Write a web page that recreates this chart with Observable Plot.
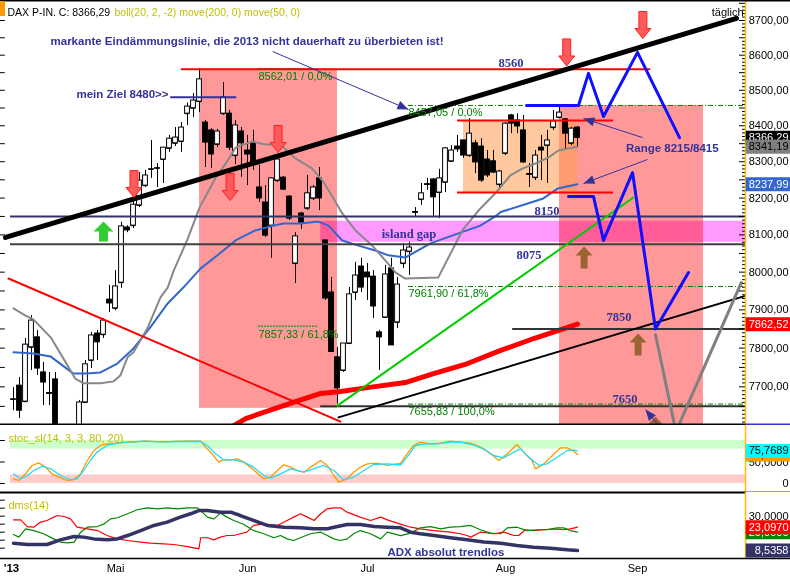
<!DOCTYPE html>
<html lang="de">
<head>
<meta charset="utf-8">
<title>DAX täglich</title>
<script src="https://cdn.jsdelivr.net/npm/d3@7"></script>
<script src="https://cdn.jsdelivr.net/npm/@observablehq/plot@0.6"></script>
<style>
  html, body { margin: 0; padding: 0; background: #fff; }
  #chart { width: 790px; height: 577px; overflow: hidden; }
  #chart svg { display: block; }
</style>
</head>
<body>
<div id="chart"></div>
<script>
// ---------------- DATA ----------------
// x = trading-day number: 0 = 8 Apr 2013 ... 94 = 19 Aug 2013 (future days continue)
const open = [7668,7703,7662,7802,7828,7737,7684,7719,7585,7505,
  7545,7590,7660,7768,7838,7835,7927,7904,7972,8120,
  8125,8180,8234,8279,8282,8306,8337,8351,8356,8434,
  8449,8468,8409,8387,8348,8434,8434,8317,8384,8331,
  8353,8229,8188,8125,8248,8256,8204,8023,8158,8172,
  8199,8254,8085,7946,7776,7742,7812,7946,8015,7999,
  7988,7841,7880,8010,7867,8023,8055,8162,8196,8238,
  8251,8215,8243,8301,8342,8359,8317,8351,8342,8306,
  8301,8237,8323,8429,8415,8387,8266,8256,8339,8345,
  8395,8423,8418,8351,8395];
const high = [7698,7724,7825,7885,7846,7763,7737,7737,7595,7560,
  7598,7665,7768,7841,7846,7877,7965,8004,8134,8125,
  8199,8270,8276,8359,8295,8339,8373,8395,8409,8464,
  8491,8562.01,8415,8392,8390,8522,8443,8415,8395,8373,
  8387,8290,8234,8256,8312,8259,8207,8106,8161,8262,
  8234,8284,8085,7986,7802,7812,7959,8026,8037,8023,
  8004,7846,8018,8037,7986,8077,8080,8174,8240,8254,
  8254,8279,8339,8345,8373,8359,8420,8359,8364,8331,
  8331,8276,8409,8432,8434,8429,8295,8331,8373,8387,
  8443,8457.05,8420,8395,8398];
const low = [7639,7619,7660,7742,7729,7652,7652,7560,7470,7440,
  7520,7585,7659,7747,7768,7825,7893,7898,7957,8106,
  8117,8174,8229,8254,8229,8240,8326,8342,8326,8401,
  8423,8437,8284,8281,8339,8429,8331,8292,8257,8234,
  8276,8188,8093,8037,8243,8221,8139,7970,8115,8166,
  8193,8166,7925,7790,7655.83,7737,7809,7925,7946,7925,
  7877,7742,7877,7807,7851,8010,7991,8147,8180,8221,
  8147,8144,8215,8298,8326,8309,8312,8267,8243,8256,
  8267,8221,8317,8378,8378,8295,8229,8248,8248,8240,
  8387,8420,8334,8345,8339];
const close = [7667,7639,7809,7872,7747,7711,7682,7590,7500,7540,
  7580,7660,7758,7833,7815,7872,7917,7962,8123,8112,
  8182,8248,8262,8278,8281,8339,8364,8367,8395,8454,
  8471,8531,8353,8320,8384,8480,8339,8401,8351,8320,
  8295,8199,8098,8254,8306,8223,8144,8096,8133,8213,
  8229,8199,7930,7790,7696,7812,7941,7991,7959,7986,
  7909,7828,7994,7807,7967,8058,8066,8160,8213,8236,
  8202,8254,8337,8331,8334,8317,8378,8298,8248,8262,
  8270,8273,8406,8406,8398,8298,8264,8317,8331,8359,
  8412,8437,8378,8392,8366.29];

// indicator lines [day, value]
const bollMid = [[0,7904],[2,7885],[3.3,7875],[6.2,7828],[8.7,7763],[10.3,7721],[11.7,7709],[14.5,7709],[16.7,7714],[17.8,7729],[19,7776],[20,7789],[22.3,7851],[24.5,7933],[25.7,7959],[26.7,8004],[29,8088],[31,8174],[33.7,8256],[35.7,8303],[37,8339],[39.8,8356],[42,8348],[44.5,8348],[47,8309],[49.8,8281],[51.5,8248],[53.2,8202],[54.8,8158],[57,8112],[59.8,8071],[62,8031],[63.7,7999],[65.3,7983],[70.8,7986],[72.5,8039],[74.8,8112],[77.5,8166],[80.3,8213],[82.8,8262],[84.8,8281],[87,8295],[89.2,8312],[90.8,8331],[92.5,8337],[94,8341.19]];
const move50 = [[0,7789],[3.3,7786],[6.2,7778],[10,7734],[12.3,7734],[14.5,7737],[17.3,7760],[20,7799],[22.8,7854],[25.7,7917],[28.3,7959],[31.2,8010],[34,8045],[37,8085],[40.3,8112],[42.8,8123],[45,8131],[47.8,8131],[50.8,8136],[52.5,8125],[54.8,8085],[57.5,8071],[60.3,8058],[62.5,8045],[65.3,8039],[69.5,8077],[74.5,8106],[77.8,8125],[80.3,8150],[81.2,8162],[85.7,8185],[88.3,8199],[90.7,8226],[94,8237.99]];
const move200 = [[36.5,7599],[38.7,7619],[47,7662],[51.2,7683],[54.5,7688],[59,7698],[65.3,7711],[70,7734],[75.7,7760],[81.2,7794],[86.7,7825],[94,7862.52]];

// stochastic %K / %D
const stochK = [[0,10.9],[0.9,7.0],[2,22.5],[3.1,41.9],[4.2,48.1],[5.3,38.0],[6.4,22.5],[7.6,14.7],[8.9,7.0],[10,8.5],[11.2,22.5],[12.3,53.5],[13.4,76.7],[14.5,88.4],[15.6,92.2],[17,93.8],[18.4,96.1],[20,96.1],[21.7,98.4],[25,96.9],[28.4,98.4],[31.2,98.4],[32,84.5],[33.1,69.0],[34.2,49.6],[35,55.0],[36.2,55.0],[37.3,57.4],[38.4,49.6],[40,31.8],[41.7,10.9],[42.8,14.7],[44,30.2],[45,43.4],[46.2,38.0],[47.3,30.2],[48.4,26.4],[49.5,38.0],[51.2,53.5],[52.3,41.9],[53.4,18.6],[54.2,3.1],[55.6,10.9],[56.7,26.4],[57.8,38.0],[59,45.7],[60.6,47.3],[62.3,41.9],[64.5,47],[65.6,69.0],[66.7,88.4],[67.8,96.1],[69.5,92.2],[71.2,93.8],[72.8,98.4],[74.5,96.1],[76.2,93.8],[77.8,84.5],[79.5,69.0],[80.9,53.5],[82.3,69.0],[83.9,90.7],[85.3,69.0],[86.4,53.5],[87,34.1],[88.4,45.7],[90.1,69.0],[91.2,82.9],[92.3,82.9],[93.4,75.2],[94,67.4]];
const stochD = [[0,22.5],[1.2,10.9],[2.3,18.6],[3.4,30.2],[4.8,40.3],[6.2,34.1],[7.8,18.6],[9.5,8.5],[10.6,10.9],[11.7,30.2],[12.8,53.5],[13.9,72.9],[15.6,88.4],[17.3,93.8],[19,96.1],[21.7,98.4],[24.5,96.9],[27.3,97.7],[31.2,97.7],[32.3,88.4],[33.7,69.0],[35,55.0],[36.7,55.0],[38.4,49.6],[40,38.0],[41.7,18.6],[42.8,12.4],[44.5,22.5],[46.2,34.1],[48.4,26.4],[50,34.1],[51.7,41.9],[53.4,30.2],[55,8.5],[56.7,14.7],[58.4,30.2],[60,44.2],[62.3,45.7],[64.5,43],[65.6,61.2],[67,88.4],[68.4,92.2],[70.6,92.2],[72.8,96.1],[74.5,96.1],[76.4,90.7],[78.4,80.6],[80,65.1],[81.7,59.7],[83.4,72.9],[84.5,80.6],[85.9,61.2],[87.6,41.9],[88.9,45.7],[90.6,61.2],[92.3,76.7],[93.4,78.3],[94,75.7689]];
const stochZones = [[80,100],[0,20]];

// DMS(14): -DI, +DI, ADX
const diMinus = [[0,27.7],[1.2,27.7],[2.3,23.5],[3.4,23.1],[4.5,26.3],[5.6,27.3],[6.7,29.4],[7.3,30.4],[8.4,29.8],[9.5,28.3],[10.6,23.1],[12.3,22.1],[14,21.0],[15.6,17.9],[17.3,15.8],[19,14.8],[21.2,13.8],[22.8,13.1],[25.1,12.7],[26.7,12.3],[29,11.0],[30.9,9.6],[31.2,16.5],[32.3,16.5],[33.4,15.2],[34.5,16.9],[35.6,17.9],[36.7,17.9],[37.8,19.0],[38.9,20.0],[40,24.2],[41.7,25.2],[44,24.2],[45.6,27.3],[46.7,29.4],[47.8,31.5],[49,29.4],[50.1,27.3],[51.2,31.5],[52.3,34.6],[53.4,35.2],[54.5,35.2],[55.6,32.5],[57.8,29.4],[59.5,27.3],[61.2,29.4],[62.3,27.7],[64.5,25],[66.2,23.1],[67.8,22.1],[70.1,21.0],[72.8,20.0],[74.5,19.0],[75.6,17.9],[76.2,16.9],[77.8,20.0],[80.1,19.0],[81.7,20.0],[83.4,17.9],[84.2,17.9],[85.3,21.5],[86.7,21.0],[88.4,21.5],[90.1,22.1],[91.7,21.5],[92.8,22.1],[94,23.097]];
const diPlus = [[0,18.5],[0.9,16.9],[2,22.1],[3.4,21.0],[5,19.0],[6.7,15.8],[7.8,13.8],[9,13.3],[10.1,13.8],[11.2,20.0],[12.3,23.1],[14,23.5],[15.1,25.2],[16.2,28.3],[17.3,29.0],[19,31.5],[20.6,34.0],[22.3,35.2],[24,34.6],[25.6,35.2],[27.3,34.6],[29,35.2],[30.6,35.2],[31.2,33.5],[32.3,29.4],[33.4,28.3],[34.5,31.9],[35.6,29.4],[36.7,27.3],[38.4,24.8],[40,21.0],[41.7,19.0],[43.4,16.5],[44.5,17.9],[45.6,15.8],[46.7,14.8],[47.8,16.5],[49.5,19.0],[51.2,20.0],[52.3,17.9],[53.4,15.8],[54.5,14.8],[55.6,15.8],[56.7,19.0],[57.8,21.0],[59.5,19.0],[61.2,15.8],[62.3,20.0],[64.5,17.8],[66.2,19.4],[67.8,22.7],[69.5,23.5],[71.2,22.1],[72.8,23.1],[74.5,23.5],[76.2,24.2],[77.8,21.5],[79.5,19.4],[81.2,19.0],[82.3,22.7],[83.9,23.1],[85.6,21.0],[87.3,21.5],[88.9,21.5],[90.6,22.7],[91.7,22.7],[92.8,21.0],[94,20.0]];
const adx = [[0,13.1],[2.3,12.3],[5.6,12.3],[7.8,15.2],[10.1,17.3],[11.7,16.9],[13.4,15.8],[15.6,15.2],[17.3,15.8],[19,17.9],[21.2,21.0],[23.4,24.2],[25.6,26.3],[27.8,29.4],[29.5,31.5],[30.9,33.5],[32.3,33.5],[34.5,32.5],[36.2,32.5],[37.8,30.4],[40,27.3],[42.3,24.2],[45.1,23.1],[47.8,22.7],[50.1,22.1],[52.3,22.1],[54,23.5],[55.6,24.8],[57.8,24.8],[60.1,23.5],[62.3,23.1],[64.5,22.7],[66.2,20.0],[67.8,19.0],[70.1,17.9],[72.8,16.5],[75.6,15.2],[78.4,13.8],[81.2,13.1],[83.9,11.7],[86.7,10.6],[89.5,10.0],[92.3,9.0],[94,8.5358]];

// drawn analysis: trend lines and projections [day, price]
const resistanceLine = [[-1.33,8093],[120.5,8706]];
const supportLine = [[54.17,7622],[122,7937]];
const downTrend = [[-0.83,7983],[54.5,7611]];
const upTrend = [[54,7652],[103.33,8201.5]];
const scenarioHigh = [[85.5,8457.05],[94.17,8457.05],[95.83,8548],[98.33,8426],[104,8608],[111,8367]];
const scenarioLow = [[92.5,8204],[96.67,8204],[98.33,8085],[103.17,8270],[107,7850],[112.5,7999]];
const scenarioGrey = [[107,7835],[110.4,7586],[121.3,7972]];

// levels
const gapLevels = [8150, 8075];
const gapLevelFrom = -0.5;
const lowerLevels = [7850, 7650];
const lowerLevelFrom = [83.2, 51.2];
const redLevels = [8560, 8415, 8215];
const redLevelFrom = [28, 74, 74];
const redLevelTo = [106.2, 100, 100];
const target = {v: 8480, from: 26.2, to: 37.2};
const fibNew = [{v: 8457.05, p: "0,0%"}, {v: 7961.90, p: "61,8%"}, {v: 7655.83, p: "100,0%"}];
const fibNewFrom = 65.83;
const fibOld = [{v: 8562.01, p: "0,0%"}, {v: 7857.33, p: "61,8%"}];
const fibOldFrom = 40.83, fibOldTo = 50.8;

// zones
const sellZones = [{from: 31, to: 54, top: 8560, bottom: 7645}, {from: 91, to: 115, top: 8457.05, bottom: 7500}];
const rangeBox = {from: 75, to: 94, top: 8415, bottom: 8215};
const gapBox = {from: 51.2, to: 122, top: 8137, bottom: 8080};

// signal arrows [day, price]
const sellArrows = [[20.08,8238.5],[36.1,8230.3],[44.1,8363],[92.2,8607.9],[104.9,8687]];
const buyArrowGreen = [[15,8109]];
const buyArrowsBrown = [[95.1,8039],[104.1,7809.4],[107,7596]];
const pointers = [
  {x1: 43.17, y1: 8610.6, x2: 65.83, y2: 8445.7},
  {x1: 104.83, y1: 8367.2, x2: 95, y2: 8420.4},
  {x1: 105.67, y1: 8306.1, x2: 95, y2: 8240},
  {x1: 108.17, y1: 7588.7, x2: 105.33, y2: 7642}
];
const notesLeft = [
  {x: 6.17, y: 8639.3, t: "markante Eindämmungslinie, die 2013 nicht dauerhaft zu überbieten ist!"},
  {x: 10.5, y: 8488, t: "mein Ziel 8480>>"}
];
const notesCentre = [{x: 109.8, y: 8336.6, t: "Range 8215/8415"}];
const notesSerif = [
  {x: 82.9, y: 8579, t: "8560"}, {x: 88.9, y: 8166, t: "8150"}, {x: 85.9, y: 8047, t: "8075"},
  {x: 100.9, y: 7880, t: "7850"}, {x: 101.9, y: 7670, t: "7650"}, {x: 65.9, y: 8103.7, t: "island gap"}
];

// axes
const priceTicks = [7700, 7800, 7900, 8000, 8100, 8200, 8300, 8400, 8500, 8600, 8700];
const monthTicks = [17, 39, 59, 82, 104];
const monthNames = ["Mai", "Jun", "Jul", "Aug", "Sep"];
const yearTick = 0, yearName = "'13";
const stochTicks = [50, 0];
const dmsTicks = [30];

// ---------------- LAYOUT / STYLE ----------------
const FONT = "Arial, 'Liberation Sans', Helvetica, sans-serif";
const SERIF = "'Times New Roman', 'Liberation Serif', 'DejaVu Serif', serif";
const NAVY = "#333399";
const X0 = -13 / 6, X1 = 122, XR = X1 + 45 / 6;
const yMain = [7603.9, 8758.2];
const yStoch = [-20.93, 134.88];
const yDms = [3.54, 44.79];
const fmt = (d, n) => d === 0 ? "0" : d.toFixed(n).replace(".", ",");
const style = {background: "#ffffff", fontFamily: FONT, fontSize: "11px", color: "#000", overflow: "hidden"};
const last = a => a[a.length - 1][1];
const px = d => d[0], py = d => d[1];

const candles = open.map((o, i) => ({i, o, h: high[i], l: low[i], c: close[i]}));

function blockArrow(w, h, headH, shaftW, down) {
  return {draw(ctx) {
    const s = down ? 1 : -1, hh = h / 2;
    ctx.moveTo(-shaftW / 2, -s * hh);
    ctx.lineTo(shaftW / 2, -s * hh);
    ctx.lineTo(shaftW / 2, s * (hh - headH));
    ctx.lineTo(w / 2, s * (hh - headH));
    ctx.lineTo(0, s * hh);
    ctx.lineTo(-w / 2, s * (hh - headH));
    ctx.lineTo(-shaftW / 2, s * (hh - headH));
    ctx.closePath();
  }};
}
const headSymbol = {draw(ctx) { ctx.moveTo(0, 0); ctx.lineTo(4.5, 11); ctx.lineTo(-4.5, 11); ctx.closePath(); }};

const sx = Plot.scale({x: {domain: [X0, X1], range: [0, 745]}});
const sy = Plot.scale({y: {type: "log", domain: yMain, range: [424, 0]}});
const heads = pointers.map(p => {
  const dx = sx.apply(p.x2) - sx.apply(p.x1), dy = sy.apply(p.y2) - sy.apply(p.y1);
  return {x: p.x2, y: p.y2, a: Math.atan2(dx, -dy) * 180 / Math.PI};
});

// value tags on the right axis: each later tag is drawn over the earlier ones
function tagMarks(values, fills, inks, digits) {
  return values.flatMap((v, i) => [
    Plot.ruleY([v], {y: d => d, x1: X1 + 0.12, x2: XR, stroke: fills[i], strokeWidth: 14}),
    Plot.text([v], {y: d => d, x: X1, dx: 43, textAnchor: "end", text: d => fmt(d, digits), fill: inks[i], fontSize: 11})
  ]);
}

const minorLeft = d3.range(7650, 8751, 50);
const minorRight = d3.range(7610, 8751, 10);

// ---------------- MAIN PANEL ----------------
const main = Plot.plot({
  width: 790, height: 425, marginLeft: 0, marginRight: 45, marginTop: 0, marginBottom: 1,
  x: {domain: [X0, X1], axis: null},
  y: {type: "log", domain: yMain, axis: null},
  color: {type: "identity"},
  style,
  marks: [
    Plot.rect(sellZones, {x1: "from", x2: "to", y1: "bottom", y2: "top", fill: "#ff9999", clip: true}),
    Plot.rect([rangeBox], {x1: "from", x2: "to", y1: "bottom", y2: "top", fill: "#ff9a50", fillOpacity: 0.55}),
    Plot.rect([gapBox], {x1: "from", x2: "to", y1: "bottom", y2: "top", fill: "#ff99ff", mixBlendMode: "multiply"}),
    // fibonacci levels
    Plot.ruleY(fibNew, {y: "v", x1: fibNewFrom, x2: X1, stroke: "#008000", strokeDasharray: "5,2,1,2"}),
    Plot.ruleY(fibOld, {y: "v", x1: fibOldFrom, x2: fibOldTo, stroke: "#008000", strokeDasharray: "2,1"}),
    // candles
    Plot.ruleX(candles, {x: "i", y1: "l", y2: "h", stroke: "#000", clip: true}),
    Plot.rect(candles, {x1: d => d.i - 0.4, x2: d => d.i + 0.4, y1: "o", y2: "c", fill: d => d.c >= d.o ? "#fff" : "#000", stroke: "#000", strokeWidth: 1, clip: true}),
    Plot.ruleY(candles, {y: "o", x1: d => d.i - 0.4, x2: d => d.i + 0.4, stroke: "#000", clip: true}),
    // moving averages
    Plot.line(move200, {x: px, y: py, stroke: "#ff0000", strokeWidth: 5, clip: true}),
    Plot.line(move50, {x: px, y: py, stroke: "#3366cc", strokeWidth: 2, clip: true}),
    Plot.line(bollMid, {x: px, y: py, stroke: "#888888", strokeWidth: 2, clip: true}),
    // horizontal levels
    Plot.ruleY(gapLevels, {y: d => d, x1: gapLevelFrom, x2: X1, stroke: (d, i) => i === 0 ? "#333366" : "#404040", strokeWidth: 2}),
    Plot.ruleY(lowerLevels, {y: d => d, x1: (d, i) => lowerLevelFrom[i], x2: X1, stroke: "#333333", strokeWidth: 2}),
    Plot.ruleY(redLevels, {y: d => d, x1: (d, i) => redLevelFrom[i], x2: (d, i) => redLevelTo[i], stroke: "#ff0000", strokeWidth: 2}),
    Plot.ruleY([target], {y: "v", x1: "from", x2: "to", stroke: NAVY, strokeWidth: 2}),
    // trend lines
    Plot.line(downTrend, {x: px, y: py, stroke: "#ff0000", strokeWidth: 2, clip: true}),
    Plot.line(upTrend, {x: px, y: py, stroke: "#00cc00", strokeWidth: 2, clip: true}),
    Plot.line(supportLine, {x: px, y: py, stroke: "#000", strokeWidth: 2, clip: true}),
    Plot.line(resistanceLine, {x: px, y: py, stroke: "#000", strokeWidth: 5, clip: true}),
    // scenarios
    Plot.line(scenarioGrey, {x: px, y: py, stroke: "#808080", strokeWidth: 3, clip: true}),
    Plot.line(scenarioHigh, {x: px, y: py, stroke: "#1010ff", strokeWidth: 3, clip: true}),
    Plot.line(scenarioLow, {x: px, y: py, stroke: "#1010ff", strokeWidth: 3, clip: true}),
    // arrows
    Plot.dot(sellArrows, {x: px, y: py, symbol: blockArrow(16, 27, 10, 8, true), r: 5, fill: "#ff5a5a", stroke: "#ff2020", strokeWidth: 1}),
    Plot.dot(buyArrowGreen, {x: px, y: py, symbol: blockArrow(20, 20, 10, 9, false), r: 5, fill: "#33cc33", stroke: "none"}),
    Plot.dot(buyArrowsBrown, {x: px, y: py, symbol: blockArrow(17, 22, 9, 7, false), r: 5, fill: "#996633", stroke: "none", clip: true}),
    Plot.link(pointers, {x1: "x1", y1: "y1", x2: "x2", y2: "y2", stroke: NAVY, strokeWidth: 1, clip: true}),
    Plot.dot(heads, {x: "x", y: "y", rotate: "a", symbol: headSymbol, r: 5, fill: NAVY, stroke: "none", clip: true}),
    // texts
    Plot.text(fibNew, {x: fibNewFrom, y: "v", dy: 7, text: d => `${fmt(d.v, 2)} / ${d.p}`, textAnchor: "start", fill: "#008000", fontSize: 11}),
    Plot.text(fibOld, {x: fibOldFrom, y: "v", dy: 8, text: d => `${fmt(d.v, 2)} / ${d.p}`, textAnchor: "start", fill: "#008000", fontSize: 11}),
    Plot.text(notesLeft, {x: "x", y: "y", text: "t", textAnchor: "start", fill: NAVY, fontWeight: "bold", fontSize: 11.5}),
    Plot.text(notesCentre, {x: "x", y: "y", text: "t", textAnchor: "middle", fill: NAVY, fontWeight: "bold", fontSize: 11.5}),
    Plot.text(notesSerif, {x: "x", y: "y", text: "t", fill: NAVY, fontWeight: "bold", fontSize: 12.5, fontFamily: SERIF}),
    // axes / frame
    Plot.ruleY(minorLeft, {y: d => d, x1: X0, x2: X0 + 0.8, stroke: "#000"}),
    Plot.ruleY(minorRight, {y: d => d, x1: d => X1 - (d % 50 === 0 ? 1 : 0.5), x2: X1, stroke: "#000"}),
    Plot.ruleX([X1], {stroke: "#ffbf00", strokeWidth: 1.5}),
    Plot.text(priceTicks, {x: X1, y: d => d, dx: 43, textAnchor: "end", text: d => fmt(d, 2), fill: "#000", fontSize: 11}),
    ...tagMarks([close[close.length - 1], last(bollMid), last(move50), last(move200)],
      ["#000000", "#808080", "#3366cc", "#ff0000"], ["#ffffff", "#000000", "#ffffff", "#ffffff"], 2),
    Plot.ruleY([yMain[1]], {x1: X0, x2: XR, stroke: "#000", strokeWidth: 2}),
    Plot.ruleY([yMain[0]], {x1: X0, x2: X1, stroke: "#000", strokeWidth: 2}),
    Plot.ruleY([yMain[0]], {x1: X1, x2: XR, stroke: "#3333cc", strokeWidth: 2}),
    Plot.dot(["title"], {frameAnchor: "top-left", dx: 2, dy: 8, r: 5, symbol: {draw(ctx) { ctx.rect(-2.5, -7.5, 5, 15); }}, fill: "#ff9900", stroke: "none"}),
    Plot.text(["DAX P-IN. C: " + fmt(close[close.length - 1], 2)], {frameAnchor: "top-left", dx: 7, dy: 8, text: d => d, textAnchor: "start", fill: "#000", fontSize: 10.5}),
    Plot.text(["boll(20, 2, -2) move(200, 0) move(50, 0)"], {frameAnchor: "top-left", dx: 114, dy: 8, text: d => d, textAnchor: "start", fill: "#c0c000", fontSize: 10.5}),
    Plot.text(["täglich"], {frameAnchor: "top-right", dx: -2, dy: 8, text: d => d, textAnchor: "end", fill: "#000", fontSize: 11})
  ]
});

// ---------------- STOCHASTIC PANEL ----------------
const stoch = Plot.plot({
  width: 790, height: 67, marginLeft: 0, marginRight: 45, marginTop: 0, marginBottom: 0,
  x: {domain: [X0, X1], axis: null},
  y: {domain: yStoch, axis: null},
  color: {type: "identity"},
  style,
  marks: [
    Plot.rect(stochZones, {x1: -0.5, x2: X1, y1: d => d[0], y2: d => d[1], fill: (d, i) => i === 0 ? "#ccffcc" : "#ffcccc"}),
    Plot.line(stochK, {x: px, y: py, stroke: "#ff9900", strokeWidth: 1.3}),
    Plot.line(stochD, {x: px, y: py, stroke: "#22ddee", strokeWidth: 1.3}),
    Plot.ruleY([0, 50, 100], {y: d => d, x1: X0, x2: X0 + 0.8, stroke: "#000"}),
    Plot.ruleX([X1], {stroke: "#ffbf00", strokeWidth: 1.5}),
    Plot.text(stochTicks, {x: X1, y: d => d, dx: 43, textAnchor: "end", text: d => fmt(d, 4), fill: "#000", fontSize: 11}),
    ...tagMarks([last(stochK), last(stochD)], ["#ff9900", "#00ffff"], ["#000000", "#000000"], 4),
    Plot.text(["stoc_sl(14, 3, 3, 80, 20)"], {frameAnchor: "top-left", dx: 8, dy: 9, text: d => d, textAnchor: "start", fill: "#c0c000", fontSize: 11}),
    Plot.ruleY([yStoch[0]], {x1: X0, x2: X1, stroke: "#000", strokeWidth: 2}),
    Plot.ruleY([yStoch[0]], {x1: X1, x2: XR, stroke: "#3333cc", strokeWidth: 2})
  ]
});

// ---------------- DMS PANEL ----------------
const dms = Plot.plot({
  width: 790, height: 85, marginLeft: 0, marginRight: 45, marginTop: 0, marginBottom: 19,
  x: {domain: [X0, X1], axis: null},
  y: {domain: yDms, axis: null},
  color: {type: "identity"},
  style,
  marks: [
    Plot.ruleY([yDms[1]], {x1: X0, x2: X1, stroke: "#000", strokeWidth: 2}),
    Plot.line(diMinus, {x: px, y: py, stroke: "#ff0000", strokeWidth: 1.2}),
    Plot.line(diPlus, {x: px, y: py, stroke: "#008800", strokeWidth: 1.2}),
    Plot.line(adx, {x: px, y: py, stroke: "#333366", strokeWidth: 3.5}),
    Plot.ruleY([10, 15, 20, 25, 30, 35, 40], {y: d => d, x1: X0, x2: X0 + 0.8, stroke: "#000"}),
    Plot.ruleX([X1], {y1: yDms[0], y2: yDms[1], stroke: "#ffbf00", strokeWidth: 1.5}),
    Plot.text(dmsTicks, {x: X1, y: d => d, dx: 43, textAnchor: "end", text: d => fmt(d, 4), fill: "#000", fontSize: 11}),
    ...tagMarks([last(diPlus), last(diMinus), last(adx)], ["#008800", "#ff0000", "#333366"], ["#ffffff", "#ffffff", "#ffffff"], 4),
    Plot.text(["dms(14)"], {frameAnchor: "top-left", dx: 8, dy: 9, text: d => d, textAnchor: "start", fill: "#c0c000", fontSize: 11}),
    Plot.text(["ADX absolut trendlos"], {x: 62.33, y: 7.29, text: d => d, textAnchor: "start", fill: NAVY, fontWeight: "bold", fontSize: 11.5}),
    Plot.ruleY([yDms[0]], {x1: X0, x2: XR, stroke: "#000", strokeWidth: 1.5}),
    Plot.text(monthTicks, {x: d => d, y: yDms[0], dy: 10, text: (d, i) => monthNames[i], fill: "#000", fontSize: 11}),
    Plot.text([yearTick], {x: d => d, y: yDms[0], dy: 10, dx: -2, text: () => yearName, fill: "#000", fontSize: 11.5, fontWeight: "bold"})
  ]
});

const root = document.getElementById("chart");
root.append(main, stoch, dms);
</script>
</body>
</html>
